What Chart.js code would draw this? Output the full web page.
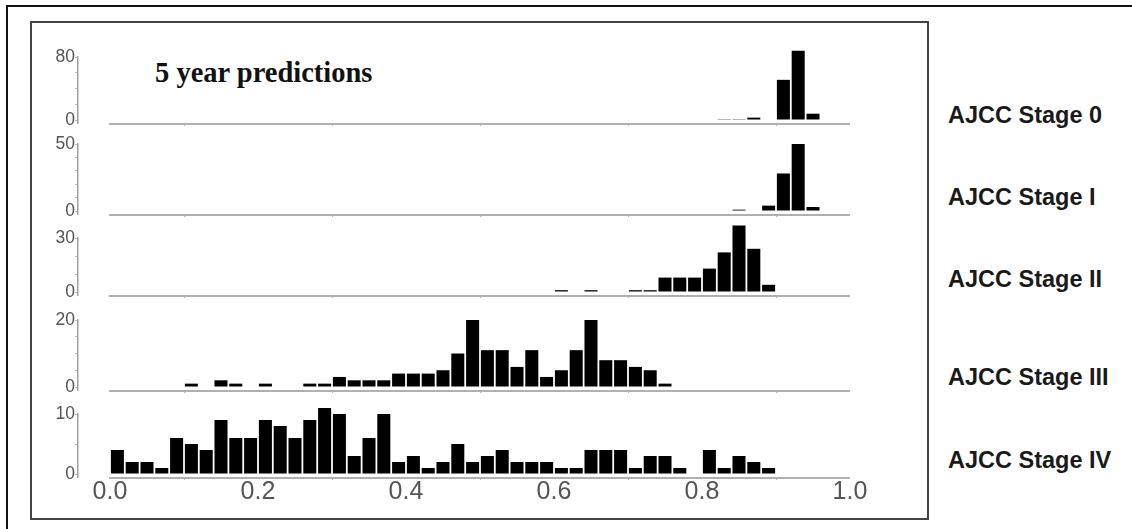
<!DOCTYPE html>
<html>
<head>
<meta charset="utf-8">
<script src="https://cdn.jsdelivr.net/npm/chart.js@4"></script>
<style>
  html, body { margin: 0; padding: 0; background: #fff; }
  #page { position: relative; width: 1132px; height: 529px; overflow: hidden; background: #fff; }
  .outer { position: absolute; left: 6px; top: 5px; width: 1200px; height: 600px; border: 2px solid #111; }
  .frame { position: absolute; left: 30px; top: 21px; width: 895px; height: 495px; border: 2px solid #444; }
  .panel { position: absolute; }
  .title { position: absolute; left: 155px; top: 59px; font: bold 28.5px "Liberation Serif", "Times New Roman", serif; line-height: 28px; color: #111; white-space: nowrap; }
  .stage { position: absolute; left: 948px; font: bold 23.5px "Liberation Sans", Arial, sans-serif; line-height: 24px; color: #1a1a1a; white-space: nowrap; transform: translateY(-50%); }
</style>
</head>
<body>
<div id="page">
  <div class="outer"></div>
  <div class="frame"></div>
  <div class="title">5 year predictions</div>
</div>
<script>
// Histogram bins of predicted 5-year survival probability (bin width 0.02)
const binStarts = [
  0.00, 0.02, 0.04, 0.06, 0.08, 0.10, 0.12, 0.14, 0.16, 0.18,
  0.20, 0.22, 0.24, 0.26, 0.28, 0.30, 0.32, 0.34, 0.36, 0.38,
  0.40, 0.42, 0.44, 0.46, 0.48, 0.50, 0.52, 0.54, 0.56, 0.58,
  0.60, 0.62, 0.64, 0.66, 0.68, 0.70, 0.72, 0.74, 0.76, 0.78,
  0.80, 0.82, 0.84, 0.86, 0.88, 0.90, 0.92, 0.94, 0.96, 0.98
];
const binWidth = 0.02;

const stageNames = ['AJCC Stage 0', 'AJCC Stage I', 'AJCC Stage II', 'AJCC Stage III', 'AJCC Stage IV'];

const stage0Counts = [
  0, 0, 0, 0, 0, 0, 0, 0, 0, 0,
  0, 0, 0, 0, 0, 0, 0, 0, 0, 0,
  0, 0, 0, 0, 0, 0, 0, 0, 0, 0,
  0, 0, 0, 0, 0, 0, 0, 0, 0, 0,
  0, 1, 1, 3, 0, 51, 88, 8, 0, 0
];
const stageICounts = [
  0, 0, 0, 0, 0, 0, 0, 0, 0, 0,
  0, 0, 0, 0, 0, 0, 0, 0, 0, 0,
  0, 0, 0, 0, 0, 0, 0, 0, 0, 0,
  0, 0, 0, 0, 0, 0, 0, 0, 0, 0,
  0, 0, 1, 0, 4, 28, 50, 3, 0, 0
];
const stageIICounts = [
  0, 0, 0, 0, 0, 0, 0, 0, 0, 0,
  0, 0, 0, 0, 0, 0, 0, 0, 0, 0,
  0, 0, 0, 0, 0, 0, 0, 0, 0, 0,
  1, 0, 1, 0, 0, 1, 1, 8, 8, 8,
  13, 22, 37, 24, 4, 0, 0, 0, 0, 0
];
const stageIIICounts = [
  0, 0, 0, 0, 0, 1, 0, 2, 1, 0,
  1, 0, 0, 1, 1, 3, 2, 2, 2, 4,
  4, 4, 5, 10, 20, 11, 11, 6, 11, 3,
  5, 11, 20, 8, 8, 6, 5, 1, 0, 0,
  0, 0, 0, 0, 0, 0, 0, 0, 0, 0
];
const stageIVCounts = [
  4, 2, 2, 1, 6, 5, 4, 9, 6, 6,
  9, 8, 6, 9, 11, 10, 3, 6, 10, 2,
  3, 1, 2, 5, 2, 3, 4, 2, 2, 2,
  1, 1, 4, 4, 4, 1, 3, 3, 1, 0,
  4, 1, 3, 2, 1, 0, 0, 0, 0, 0
];

// y-axis tick marks per panel (labels are shown for the ends only)
const stage0Ticks = [0, 20, 40, 60, 80];
const stageITicks = [0, 10, 20, 30, 40, 50];
const stageIITicks = [0, 10, 20, 30];
const stageIIITicks = [0, 5, 10, 15, 20];
const stageIVTicks = [0, 5, 10];

const xTickValues = [0, 0.2, 0.4, 0.6, 0.8, 1.0];

const panels = [
  { counts: stage0Counts,   ticks: stage0Ticks },
  { counts: stageICounts,   ticks: stageITicks },
  { counts: stageIICounts,  ticks: stageIITicks },
  { counts: stageIIICounts, ticks: stageIIITicks },
  { counts: stageIVCounts,  ticks: stageIVTicks }
];

// Panel geometry: pixel rows of the top tick, the zero line and the baseline
const panelRows = [
  { top: 57,  zero: 120, base: 123, label: 115 },
  { top: 144, zero: 211, base: 214, label: 197 },
  { top: 238, zero: 292, base: 295, label: 279 },
  { top: 320, zero: 387, base: 390, label: 377 },
  { top: 414, zero: 474, base: 477, label: 460 }
];
const CANVAS_LEFT = 38;
const CANVAS_W = 832;
const Y_AXIS_W = 40;
const PAD_TOP = 24;
const PAD_RIGHT = 20;
const PAD_BOTTOM = 2;
const X_MIN = -32 / 740;

const grey = '#555';

const baselinePlugin = {
  id: 'baseline',
  beforeDatasetsDraw(chart) {
    const { ctx, chartArea, scales } = chart;
    const x = scales.x;
    ctx.save();
    ctx.strokeStyle = '#b0b0b0';
    ctx.lineWidth = 2;
    ctx.beginPath();
    ctx.moveTo(x.getPixelForValue(0) - 1, chartArea.bottom + 1);
    ctx.lineTo(x.getPixelForValue(1), chartArea.bottom + 1);
    ctx.stroke();
    ctx.restore();
  }
};

const page = document.getElementById('page');

panels.forEach((p, i) => {
  const rows = panelRows[i];
  const last = i === panels.length - 1;
  const xAxisH = last ? 30 : 4;
  const yMax = p.ticks[p.ticks.length - 1];
  const pxPerUnit = (rows.zero - rows.top) / yMax;
  const yMin = -(rows.base - rows.zero) / pxPerUnit;
  const h = PAD_TOP + (rows.base - rows.top) + xAxisH + PAD_BOTTOM;

  const canvas = document.createElement('canvas');
  canvas.className = 'panel';
  canvas.width = CANVAS_W;
  canvas.height = h;
  canvas.style.left = CANVAS_LEFT + 'px';
  canvas.style.top = (rows.top - PAD_TOP) + 'px';
  canvas.style.width = CANVAS_W + 'px';
  canvas.style.height = h + 'px';
  page.appendChild(canvas);

  const label = document.createElement('div');
  label.className = 'stage';
  label.style.top = rows.label + 'px';
  label.textContent = stageNames[i];
  page.appendChild(label);

  new Chart(canvas, {
    type: 'bar',
    data: {
      datasets: [{
        data: binStarts.map((b, k) => ({ x: b + binWidth / 2, y: p.counts[k] })),
        backgroundColor: '#000',
        borderWidth: 0,
        barPercentage: 0.88,
        categoryPercentage: 1,
        clip: false
      }]
    },
    options: {
      responsive: false,
      animation: false,
      devicePixelRatio: 1,
      layout: { padding: { top: PAD_TOP, right: PAD_RIGHT, bottom: PAD_BOTTOM, left: 0 } },
      plugins: { legend: { display: false }, tooltip: { enabled: false }, title: { display: false } },
      scales: {
        x: {
          type: 'linear',
          min: X_MIN,
          max: 1,
          offset: false,
          border: { display: false },
          grid: { drawOnChartArea: false, drawTicks: true, tickLength: 3, color: '#b0b0b0' },
          ticks: {
            display: last,
            autoSkip: false,
            maxRotation: 0,
            padding: 0,
            color: grey,
            font: { family: '"Liberation Sans", Arial, sans-serif', size: 25, lineHeight: 1 },
            callback: v => Number(v).toFixed(1)
          },
          afterBuildTicks: s => { s.ticks = xTickValues.map(v => ({ value: v })); },
          afterFit: s => {
            s.height = xAxisH;
            s.paddingLeft = 0; s.paddingRight = 0; s.paddingTop = 0; s.paddingBottom = 0;
          }
        },
        y: {
          type: 'linear',
          min: yMin,
          max: yMax,
          border: { display: true, color: '#a0a0a0', width: 1.5 },
          grid: { drawOnChartArea: false, drawTicks: true, tickLength: 3, color: '#b8b8b8' },
          ticks: {
            autoSkip: false,
            padding: 0,
            color: grey,
            font: { family: '"Liberation Sans", Arial, sans-serif', size: 17.5 },
            callback: v => (v === 0 || v === yMax) ? String(v) : ''
          },
          afterBuildTicks: s => { s.ticks = p.ticks.map(v => ({ value: v })); },
          afterFit: s => {
            s.width = Y_AXIS_W;
            s.paddingLeft = 0; s.paddingRight = 0; s.paddingTop = 0; s.paddingBottom = 0;
          }
        }
      }
    },
    plugins: [baselinePlugin]
  });
});
</script>
</body>
</html>
